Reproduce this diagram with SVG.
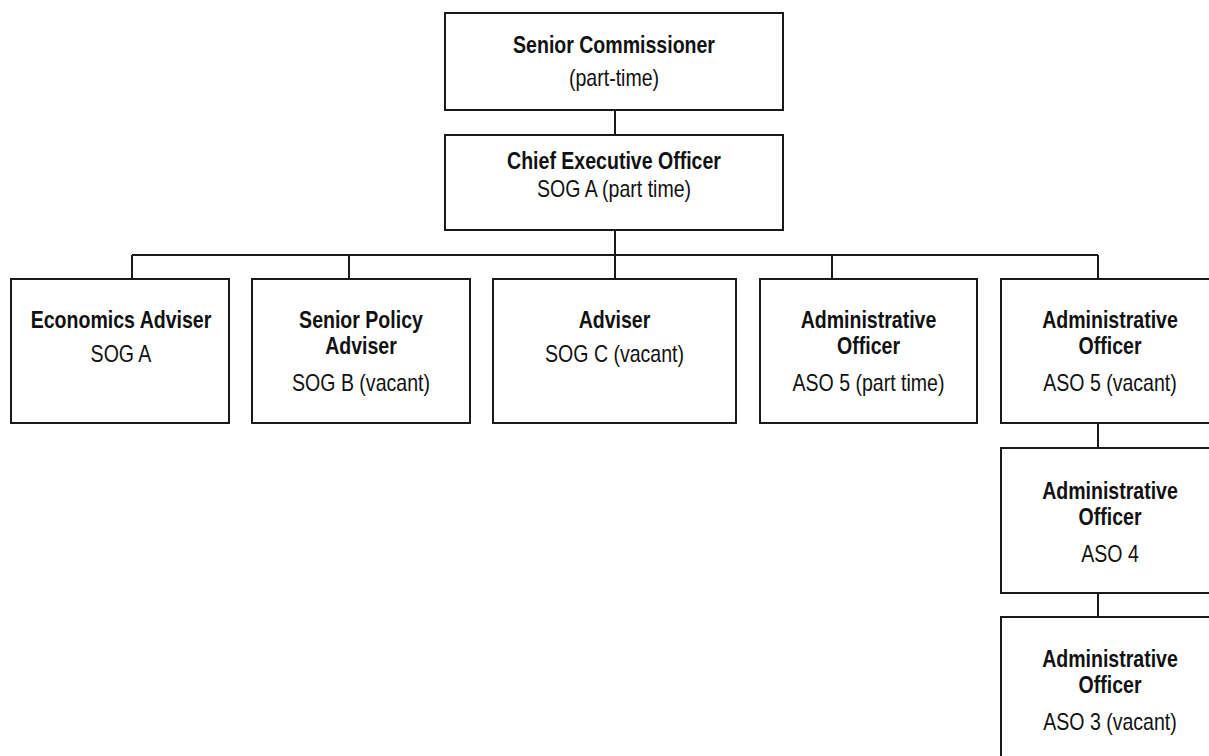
<svg xmlns="http://www.w3.org/2000/svg" width="1209" height="756" viewBox="0 0 1209 756">
<style>
  .box { fill: #ffffff; stroke: #1a1a1a; stroke-width: 2; }
  .conn { fill: none; stroke: #1a1a1a; stroke-width: 2; }
  text { font-family: "Liberation Sans", Arial, sans-serif; font-size: 23px; text-anchor: middle; fill: #111111; }
  .b { font-weight: bold; }
</style>
<rect x="0" y="0" width="1209" height="756" fill="#ffffff"/>
<g id="connectors">
  <path class="conn" d="M615 110 V135"/>
  <path class="conn" d="M615 230 V279"/>
  <path class="conn" d="M132 255 H1098"/>
  <path class="conn" d="M132 255 V279"/>
  <path class="conn" d="M349 255 V279"/>
  <path class="conn" d="M832 255 V279"/>
  <path class="conn" d="M1098 255 V279"/>
  <path class="conn" d="M1098 423 V448"/>
  <path class="conn" d="M1098 593 V617"/>
</g>
<g id="senior-commissioner">
  <rect class="box" x="445" y="13" width="338" height="97"/>
  <text class="b" transform="translate(614,53) scale(0.85,1)">Senior Commissioner</text>
  <text transform="translate(614,86) scale(0.85,1)">(part-time)</text>
</g>
<g id="ceo">
  <rect class="box" x="445" y="135" width="338" height="95"/>
  <text class="b" transform="translate(614,169) scale(0.85,1)">Chief Executive Officer</text>
  <text transform="translate(614,197) scale(0.85,1)">SOG A (part time)</text>
</g>
<g id="economics-adviser">
  <rect class="box" x="11" y="279" width="218" height="144"/>
  <text class="b" transform="translate(121,328) scale(0.85,1)">Economics Adviser</text>
  <text transform="translate(121,362) scale(0.85,1)">SOG A</text>
</g>
<g id="senior-policy-adviser">
  <rect class="box" x="252" y="279" width="218" height="144"/>
  <text class="b" transform="translate(361,328) scale(0.85,1)">Senior Policy</text>
  <text class="b" transform="translate(361,354) scale(0.85,1)">Adviser</text>
  <text transform="translate(361,391) scale(0.85,1)">SOG B (vacant)</text>
</g>
<g id="adviser">
  <rect class="box" x="493" y="279" width="243" height="144"/>
  <text class="b" transform="translate(614.5,328) scale(0.85,1)">Adviser</text>
  <text transform="translate(614.5,362) scale(0.85,1)">SOG C (vacant)</text>
</g>
<g id="admin-officer-aso5-pt">
  <rect class="box" x="760" y="279" width="217" height="144"/>
  <text class="b" transform="translate(868.5,328) scale(0.85,1)">Administrative</text>
  <text class="b" transform="translate(868.5,354) scale(0.85,1)">Officer</text>
  <text transform="translate(868.5,391) scale(0.85,1)">ASO 5 (part time)</text>
</g>
<g id="admin-officer-aso5-vacant">
  <rect class="box" x="1001" y="279" width="218" height="144"/>
  <text class="b" transform="translate(1110,328) scale(0.85,1)">Administrative</text>
  <text class="b" transform="translate(1110,354) scale(0.85,1)">Officer</text>
  <text transform="translate(1110,391) scale(0.85,1)">ASO 5 (vacant)</text>
</g>
<g id="admin-officer-aso4">
  <rect class="box" x="1001" y="448" width="218" height="145"/>
  <text class="b" transform="translate(1110,499) scale(0.85,1)">Administrative</text>
  <text class="b" transform="translate(1110,525) scale(0.85,1)">Officer</text>
  <text transform="translate(1110,562) scale(0.85,1)">ASO 4</text>
</g>
<g id="admin-officer-aso3">
  <rect class="box" x="1001" y="617" width="218" height="160"/>
  <text class="b" transform="translate(1110,667) scale(0.85,1)">Administrative</text>
  <text class="b" transform="translate(1110,693) scale(0.85,1)">Officer</text>
  <text transform="translate(1110,730) scale(0.85,1)">ASO 3 (vacant)</text>
</g>
</svg>
